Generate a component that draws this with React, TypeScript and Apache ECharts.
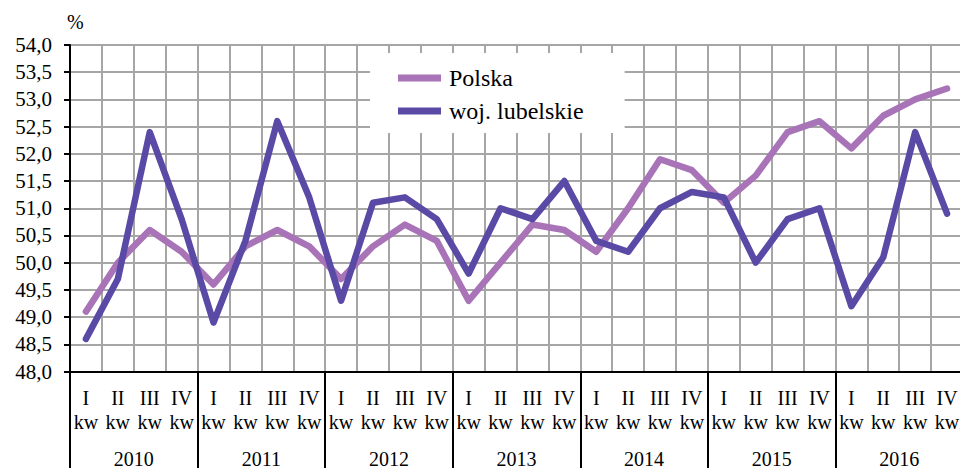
import React, { useEffect, useRef } from "react";
import * as echarts from "echarts";

const years = ["2010", "2011", "2012", "2013", "2014", "2015", "2016"];
const quarters = ["I", "II", "III", "IV"];
const categories = years.flatMap((y) => quarters.map((q) => `${y}-${q}`));

const polska = [
  49.1, 50.0, 50.6, 50.2,
  49.6, 50.3, 50.6, 50.3,
  49.7, 50.3, 50.7, 50.4,
  49.3, 50.0, 50.7, 50.6,
  50.2, 51.0, 51.9, 51.7,
  51.1, 51.6, 52.4, 52.6,
  52.1, 52.7, 53.0, 53.2,
];
const lubelskie = [
  48.6, 49.7, 52.4, 50.8,
  48.9, 50.4, 52.6, 51.2,
  49.3, 51.1, 51.2, 50.8,
  49.8, 51.0, 50.8, 51.5,
  50.4, 50.2, 51.0, 51.3,
  51.2, 50.0, 50.8, 51.0,
  49.2, 50.1, 52.4, 50.9,
];

const FONT = "Liberation Serif";

export default function App() {
  const ref = useRef<HTMLDivElement>(null);
  useEffect(() => {
    if (!ref.current) return;
    const chart = echarts.init(ref.current, undefined, { renderer: "svg" });
    chart.setOption({
      animation: false,
      backgroundColor: "#fff",
      textStyle: { fontFamily: FONT, color: "#000" },
      grid: {
        left: 70,
        top: 45,
        width: 893,
        height: 326.5,
        containLabel: false,
        outerBoundsMode: "none",
      },
      legend: {
        left: 370,
        top: 53,
        orient: "vertical",
        backgroundColor: "#fff",
        padding: [13, 41, 10, 28],
        itemWidth: 43,
        itemHeight: 7,
        itemGap: 9,
        icon: "rect",
        textStyle: {
          fontFamily: FONT,
          fontSize: 24,
          color: "#000",
          lineHeight: 24,
          padding: [0, 0, 0, 3],
        },
        data: ["Polska", "woj. lubelskie"],
      },
      graphic: [
        {
          type: "text",
          left: 67,
          top: 12,
          style: { text: "%", fontFamily: FONT, fontSize: 20, fill: "#000" },
        },
      ],
      xAxis: [
        {
          type: "category",
          data: categories,
          boundaryGap: true,
          axisLine: { show: true, lineStyle: { color: "#000", width: 2 } },
          axisTick: {
            show: true,
            length: 100,
            interval: (i: number) => i % 4 === 0,
            lineStyle: { color: "#000", width: 2 },
          },
          axisLabel: {
            interval: 0,
            margin: 14,
            fontFamily: FONT,
            fontSize: 20,
            lineHeight: 24,
            color: "#000",
            formatter: (v: string) => `${v.split("-")[1]}\nkw`,
          },
          splitLine: { show: true, lineStyle: { color: "#a6a6a6", width: 2 } },
        },
        {
          type: "category",
          data: years,
          position: "bottom",
          boundaryGap: true,
          axisLine: { show: false },
          axisTick: { show: false },
          axisLabel: {
            interval: 0,
            margin: 75,
            fontFamily: FONT,
            fontSize: 20,
            lineHeight: 24,
            color: "#000",
          },
          splitLine: { show: false },
        },
      ],
      yAxis: {
        type: "value",
        min: 48,
        max: 54,
        interval: 0.5,
        axisLine: { show: true, lineStyle: { color: "#000", width: 2 } },
        axisTick: { show: true, length: 6, lineStyle: { color: "#000", width: 2 } },
        axisLabel: {
          margin: 18,
          fontFamily: FONT,
          fontSize: 21,
          color: "#000",
          formatter: (v: number) => v.toFixed(1).replace(".", ","),
        },
        splitLine: { show: true, lineStyle: { color: "#a6a6a6", width: 2 } },
      },
      series: [
        {
          name: "Polska",
          type: "line",
          data: polska,
          symbol: "none",
          color: "#A973B8",
          lineStyle: { width: 6.5, color: "#A973B8", cap: "round", join: "round" },
          z: 3,
        },
        {
          name: "woj. lubelskie",
          type: "line",
          data: lubelskie,
          symbol: "none",
          color: "#5A4AA6",
          lineStyle: { width: 6.5, color: "#5A4AA6", cap: "round", join: "round" },
          z: 4,
        },
      ],
    });
    return () => chart.dispose();
  }, []);
  return (
    <div
      ref={ref}
      style={{
        position: "fixed",
        left: 0,
        top: 0,
        width: 960,
        height: 468,
        overflow: "hidden",
      }}
    />
  );
}
